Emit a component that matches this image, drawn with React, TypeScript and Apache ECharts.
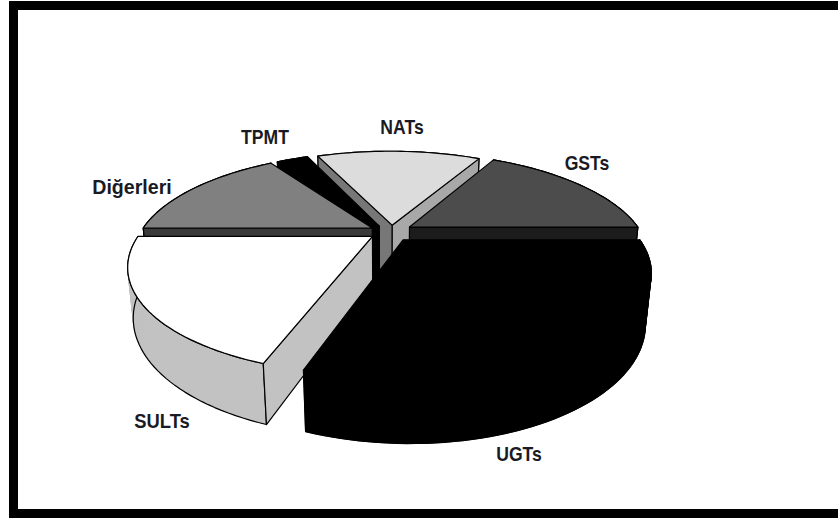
import React, { useEffect, useRef } from "react";
import * as echarts from "echarts";

const WIDTH = 838;
const HEIGHT = 518;

// Share of each enzyme family, in the order the slices run counter-clockwise from east.
const categories = ["GSTs", "NATs", "TPMT", "Diğerleri", "SULTs", "UGTs"];
const shares = [17, 14.5, 2.8, 15.7, 19.6, 30.4];

// Slices are painted back to front.
const paintOrder = [1, 2, 3, 0, 4, 5];

const topColors = ["#4c4c4c", "#dcdcdc", "#000000", "#808080", "#ffffff", "#000000"];
const wallColors = ["#1c1c1c", "#bdbdbd", "#000000", "#3a3a3a", "#c2c2c2", "#000000"];
const startFaceColors = ["#1c1c1c", "#a8a8a8", "#000000", "#3a3a3a", "#c2c2c2", "#000000"];
const endFaceColors = ["#1c1c1c", "#777777", "#000000", "#3a3a3a", "#c2c2c2", "#000000"];

// How far each slice is pulled out of the pie, in disc radii (x to the right, y toward the viewer).
const explodeX = [0.116, 0.04, -0.016, -0.047, -0.045, 0.085];
const explodeY = [-0.01, -0.03, -0.02, 0, 0.085, 0.12];

// Height of each slice; the NAT and TPMT wedges run deeper and close the hub of the pie.
const sliceDepth = [1, 1.35, 1.35, 1, 1, 1];

// Label anchors, as [x, y] of the text centre, and the horizontal squeeze of each label.
const labelX = [587, 402, 265, 132, 162, 519];
const labelY = [163, 127, 137, 187, 421, 454];
const labelStretch = [0.88, 0.88, 0.88, 0.98, 0.92, 0.88];

// Perspective camera looking down on the disc.
const CX = 383;
const CY = 228;
const SCALE_X = 229;
const SCALE_Y = 95.25;
const PERSPECTIVE = 0.27;
const DEPTH_PERSPECTIVE = 0.02;
const THICKNESS = 48;

function project(u: number, v: number, z: number): number[] {
  const w = 1 - PERSPECTIVE * v + DEPTH_PERSPECTIVE * z;
  return [CX + (SCALE_X * u) / w, CY + (SCALE_Y * v + THICKNESS * z) / w];
}

function sliceStart(index: number): number {
  let sum = 0;
  for (let i = 0; i < index; i++) sum += shares[i];
  return (sum / 100) * Math.PI * 2;
}

function renderSlice(_params: any, api: any) {
  const i = api.value(0) as number;
  const share = api.value(1) as number;
  const start = sliceStart(i);
  const end = start + (share / 100) * Math.PI * 2;
  const du = explodeX[i];
  const dv = explodeY[i];
  const depth = sliceDepth[i];

  const arcTop: number[][] = [];
  const arcBottom: number[][] = [];
  const steps = Math.max(4, Math.ceil((end - start) / 0.03));
  for (let s = 0; s <= steps; s++) {
    const a = start + ((end - start) * s) / steps;
    const u = du + Math.cos(a);
    const v = dv - Math.sin(a);
    arcTop.push(project(u, v, 0));
    arcBottom.push(project(u, v, depth));
  }
  const apexTop = project(du, dv, 0);
  const apexBottom = project(du, dv, depth);

  const poly = (points: number[][], fill: string) => ({
    type: "polygon",
    shape: { points },
    style: { fill, stroke: "#000000", lineWidth: 1.2, lineJoin: "round" },
  });

  const wall = [...arcTop, ...arcBottom.slice().reverse()];
  const children: any[] = [
    { type: "polygon", shape: { points: wall }, style: { fill: wallColors[i] } },
  ];

  // The wall is swept strip by strip, so its silhouette stays tangent between the two rims.
  for (let s = 0; s < steps; s++) {
    children.push({
      type: "polygon",
      shape: { points: [arcTop[s], arcTop[s + 1], arcBottom[s + 1], arcBottom[s]] },
      style: { fill: wallColors[i], stroke: wallColors[i], lineWidth: 0.8, lineJoin: "round" },
    });
  }
  children.push(poly(wall, "none"));

  // A cut face is drawn only when it turns toward the camera.
  if (Math.cos(start) > 0) {
    children.push(poly([apexTop, arcTop[0], arcBottom[0], apexBottom], startFaceColors[i]));
  }
  if (Math.cos(end) < 0) {
    children.push(poly([apexTop, arcTop[steps], arcBottom[steps], apexBottom], endFaceColors[i]));
  }
  children.push(poly([apexTop, ...arcTop], topColors[i]));

  return { type: "group", children };
}

export default function App() {
  const ref = useRef<HTMLDivElement>(null);

  useEffect(() => {
    const chart = echarts.init(ref.current!, undefined, { renderer: "svg" });
    chart.setOption({
      animation: false,
      backgroundColor: "#ffffff",
      graphic: {
        elements: [
          { type: "rect", shape: { x: 9, y: 1, width: 829, height: 9 }, style: { fill: "#000" } },
          { type: "rect", shape: { x: 9, y: 1, width: 9, height: 517 }, style: { fill: "#000" } },
          { type: "rect", shape: { x: 9, y: 509, width: 829, height: 9 }, style: { fill: "#000" } },
          ...categories.map((name, i) => ({
            type: "text",
            x: labelX[i],
            y: labelY[i],
            scaleX: labelStretch[i],
            z: 10,
            style: {
              text: name,
              align: "center",
              verticalAlign: "middle",
              fill: "#1a1a24",
              font: 'bold 20px "Liberation Sans", sans-serif',
            },
          })),
        ],
      },
      series: [
        {
          type: "custom",
          coordinateSystem: "none",
          silent: true,
          renderItem: renderSlice,
          data: paintOrder.map((i) => ({ name: categories[i], value: [i, shares[i]] })),
        },
      ],
    });
    return () => chart.dispose();
  }, []);

  return (
    <div
      ref={ref}
      style={{ position: "absolute", left: 0, top: 0, width: WIDTH, height: HEIGHT }}
    />
  );
}
